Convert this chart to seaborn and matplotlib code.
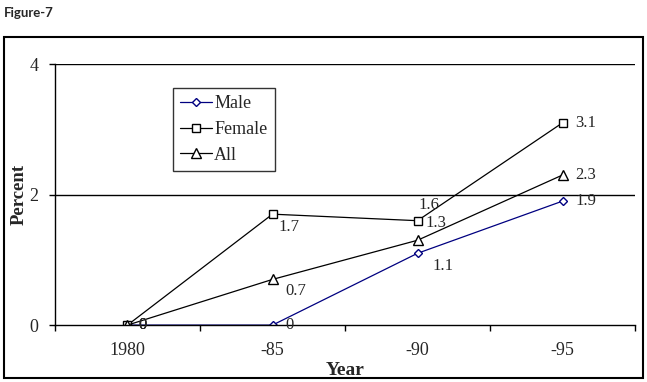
import pandas as pd
import matplotlib.pyplot as plt
import seaborn as sns
from matplotlib.patches import Rectangle

years = ['1980', '-85', '-90', '-95']
male = [0, 0, 1.1, 1.9]
female = [0, 1.7, 1.6, 3.1]
all_ = [0, 0.7, 1.3, 2.3]

sns.set_style('white')
plt.rcParams['font.family'] = ['Liberation Serif', 'DejaVu Serif']

df = pd.DataFrame({
    'pos': list(range(len(years))) * 3,
    'value': male + female + all_,
    'group': ['Male'] * 4 + ['Female'] * 4 + ['All'] * 4,
})

fig = plt.figure(figsize=(6.47, 3.82), dpi=100)
ax = fig.add_axes([0.085, 0.149, 0.8965, 0.6832])

styles = {
    'Male': dict(color='#000080', marker='D', markersize=4),
    'Female': dict(color='black', marker='s', markersize=6),
    'All': dict(color='black', marker='^', markersize=6.5),
}
for g in ['Male', 'Female', 'All']:
    sub = df[df['group'] == g]
    sns.lineplot(data=sub, x='pos', y='value', ax=ax, label=g,
                 color=styles[g]['color'], marker=styles[g]['marker'],
                 markersize=styles[g]['markersize'], markerfacecolor='white',
                 markeredgecolor=styles[g]['color'], markeredgewidth=1.0,
                 linewidth=0.9)

# data labels (offsets in points)
offsets = {
    'Male': [(8, 0), (9, 0), (11, -9.4), (9, 0)],
    'Female': [(8, 0), (4, -9.5), (0.5, 11.5), (9, 0)],
    'All': [(8, 0), (9, -8.6), (5.8, 12.2), (9, 0)],
}
for g, vals in [('Male', male), ('Female', female), ('All', all_)]:
    for i, v in enumerate(vals):
        ax.annotate(f'{v:g}', (i, v), xytext=offsets[g][i], textcoords='offset points',
                    fontsize=12, ha='left', va='center')

ax.set_xlim(-0.5, len(years) - 0.5)
ax.set_ylim(0, 4)
ax.set_yticks([0, 2, 4])
ax.set_yticklabels(['0', '2', '4'], fontsize=13)
ax.set_xticks(range(len(years)))
ax.set_xticklabels(years, fontsize=13)
ax.set_xticks([x - 0.5 for x in range(len(years) + 1)], minor=True)
ax.tick_params(axis='x', which='major', length=0, pad=12)
ax.tick_params(axis='x', which='minor', length=4.5, width=1, direction='out',
               color='black', bottom=True)
ax.tick_params(axis='y', length=4, width=1, direction='out', color='black', pad=8, left=True)
for yv in [2, 4]:
    ax.axhline(yv, color='black', lw=1)

for s in ['top', 'right']:
    ax.spines[s].set_visible(False)
ax.spines['left'].set_color('black')
ax.spines['bottom'].set_color('black')
ax.spines['left'].set_linewidth(1)
ax.spines['bottom'].set_linewidth(1)

ax.set_xlabel('Year', fontsize=14, fontweight='bold', labelpad=2)
ax.set_ylabel('Percent', fontsize=13.5, fontweight='bold', labelpad=1)

leg = ax.legend(loc='upper left', bbox_to_anchor=(0.203, 0.908), fontsize=13,
                frameon=True, fancybox=False, edgecolor='black', borderaxespad=0,
                handlelength=1.8, handletextpad=0.1, borderpad=0.4, labelspacing=0.48)
leg.get_frame().set_linewidth(1)

fig.text(0.006, 0.965, 'Figure-7', fontsize=9.5, fontweight='bold',
         family=['Lato', 'DejaVu Sans'], va='center', ha='left')
fig.patches.append(Rectangle((0.006, 0.011), 0.988, 0.893, transform=fig.transFigure,
                             fill=False, edgecolor='black', lw=1.5))

fig.savefig('out.png', dpi=100)
